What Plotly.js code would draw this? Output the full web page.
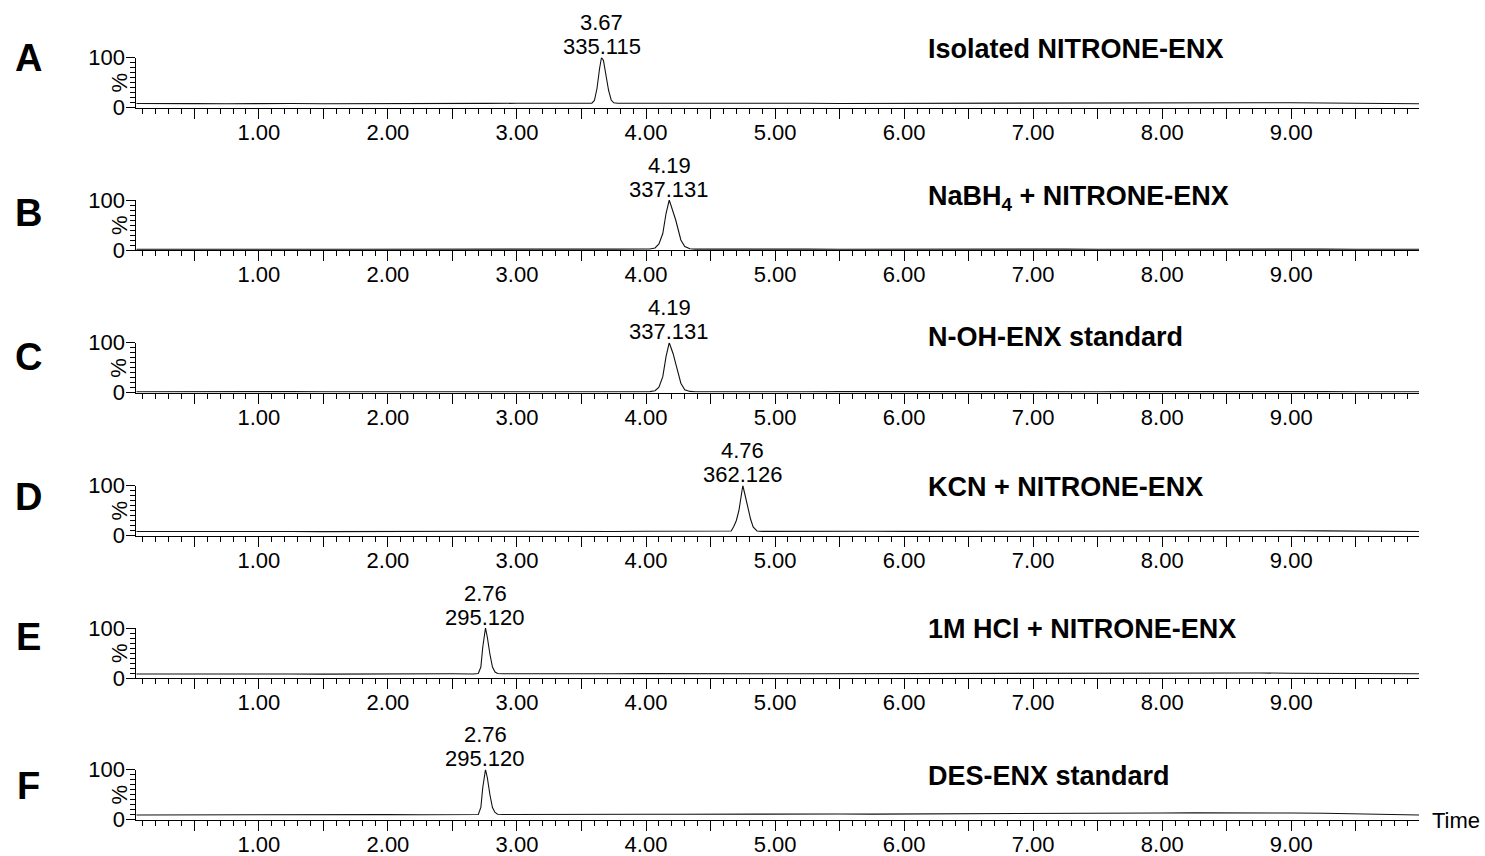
<!DOCTYPE html>
<html>
<head>
<meta charset="utf-8">
<script src="https://cdn.plot.ly/plotly-3.0.1.min.js"></script>
<style>html,body{margin:0;padding:0;background:#fff;}#chart{width:1485px;height:856px;}</style>
</head>
<body>
<div id="chart"></div>
<script>
// ---------------- DATA ----------------
const panelLetters = ['A', 'B', 'C', 'D', 'E', 'F'];
const panelTitles = ['Isolated NITRONE-ENX', 'NaBH<sub>4</sub> + NITRONE-ENX', 'N-OH-ENX standard',
                     'KCN + NITRONE-ENX', '1M HCl + NITRONE-ENX', 'DES-ENX standard'];
const rtLabels = ['3.67', '4.19', '4.19', '4.76', '2.76', '2.76'];
const mzLabels = ['335.115', '337.131', '337.131', '362.126', '295.120', '295.120'];
const apexTime = [3.655, 4.18, 4.18, 4.75, 2.756, 2.756];

const xLabelVals = [1, 2, 3, 4, 5, 6, 7, 8, 9];
const xLabelText = ['1.00', '2.00', '3.00', '4.00', '5.00', '6.00', '7.00', '8.00', '9.00'];
const xHalfVals = [0.5, 1.5, 2.5, 3.5, 4.5, 5.5, 6.5, 7.5, 8.5, 9.5];
const yTickVals = [0, 100];
const yTickText = ['0', '100'];

// baseline (time, % intensity)
const baseTime = [0.05, 0.25, 0.50, 0.75, 1.00, 1.25, 1.50, 1.75, 2.00, 2.25, 2.50, 2.75, 3.00, 3.25, 3.50, 3.75,
                  4.00, 4.25, 4.50, 4.75, 5.00, 5.25, 5.50, 5.75, 6.00, 6.25, 6.50, 6.75, 7.00, 7.25, 7.50, 7.75,
                  8.00, 8.25, 8.50, 8.75, 9.00, 9.25, 9.50, 9.75, 9.99];
const baseA = [8.0, 8.4, 7.8, 7.6, 8.2, 8.0, 7.6, 8.0, 8.4, 8.0, 7.8, 8.2, 8.4, 8.0, 8.2, 8.0, 8.6, 8.4, 8.0, 8.2,
               8.6, 8.4, 8.0, 8.2, 8.8, 8.6, 8.4, 8.6, 9.0, 8.8, 9.2, 9.4, 9.6, 9.8, 10.0, 9.6, 9.4, 8.8, 8.6, 8.2, 7.6];
const baseB = [1.6, 1.8, 1.6, 1.4, 1.6, 1.8, 1.6, 1.6, 1.8, 1.6, 1.8, 2.6, 1.8, 1.6, 1.8, 1.8, 2.0, 1.8, 1.6, 1.8,
               2.0, 1.8, 1.6, 1.8, 2.0, 1.8, 1.6, 1.8, 2.0, 1.8, 1.6, 1.8, 2.0, 2.2, 2.0, 1.8, 2.0, 1.8, 1.6, 1.8, 1.6];
const baseC = [2.0, 2.2, 1.8, 1.8, 2.0, 2.2, 1.8, 2.0, 2.2, 2.0, 1.8, 2.0, 2.2, 2.0, 1.8, 2.0, 2.2, 2.0, 1.8, 2.0,
               2.2, 2.0, 2.2, 2.0, 2.4, 2.2, 2.0, 2.2, 2.4, 2.2, 2.0, 2.2, 2.4, 2.6, 2.4, 2.2, 2.4, 2.2, 2.0, 2.2, 2.0];
const baseD = [8.0, 8.2, 7.8, 8.0, 8.4, 8.0, 7.8, 8.2, 8.4, 8.0, 8.2, 8.6, 8.4, 8.0, 8.2, 8.0, 8.4, 8.6, 8.2, 8.0,
               8.4, 8.8, 8.4, 8.6, 8.2, 8.4, 8.8, 8.6, 9.0, 8.8, 9.2, 9.6, 9.8, 9.6, 9.4, 9.8, 9.6, 9.2, 8.8, 8.4, 8.0];
const baseE = [8.0, 8.2, 7.6, 7.8, 8.2, 8.0, 7.8, 8.2, 8.4, 8.2, 8.4, 8.4, 8.6, 8.4, 8.2, 8.6, 8.8, 8.4, 8.6, 8.8,
               8.4, 8.6, 8.8, 8.6, 9.0, 8.8, 9.2, 9.0, 9.4, 9.2, 9.6, 9.8, 10.0, 9.8, 10.2, 10.0, 9.6, 9.4, 9.0, 8.8, 8.4];
const baseF = [9.0, 9.2, 8.6, 8.8, 9.2, 9.4, 9.0, 9.4, 9.8, 9.6, 9.8, 10.0, 10.2, 10.0, 10.4, 10.2, 10.6, 10.4, 10.8, 10.6,
               10.4, 10.8, 11.0, 10.8, 11.2, 11.0, 11.4, 11.6, 11.8, 12.0, 12.4, 12.6, 13.0, 13.2, 13.6, 13.4, 13.0, 12.4, 11.6, 10.4, 9.0];

// peak regions (time, % intensity)
const peakA_t = [3.55, 3.58, 3.60, 3.62, 3.64, 3.655, 3.67, 3.69, 3.71, 3.73, 3.75, 3.78];
const peakA_y = [8.2, 8.8, 14, 38, 78, 100, 94, 66, 34, 15, 9.4, 8.4];
const peakB_t = [4.00, 4.03, 4.07, 4.10, 4.13, 4.155, 4.18, 4.21, 4.23, 4.25, 4.27, 4.30, 4.34, 4.38];
const peakB_y = [1.8, 2.0, 4, 12, 33, 73, 100, 77, 60, 40, 20, 7, 2.4, 1.8];
const peakC_t = [4.00, 4.03, 4.07, 4.10, 4.13, 4.155, 4.18, 4.21, 4.23, 4.25, 4.27, 4.30, 4.34, 4.38];
const peakC_y = [2.0, 2.2, 4, 11, 32, 72, 100, 78, 58, 38, 19, 6, 2.6, 2.0];
const peakD_t = [4.62, 4.66, 4.68, 4.70, 4.72, 4.735, 4.75, 4.77, 4.79, 4.81, 4.83, 4.86, 4.90];
const peakD_y = [8.0, 9, 18, 30, 50, 78, 100, 78, 53, 33, 17, 9, 8.2];
const peakE_t = [2.66, 2.70, 2.72, 2.735, 2.756, 2.77, 2.79, 2.81, 2.83, 2.85, 2.89];
const peakE_y = [8.0, 9, 22, 62, 100, 82, 48, 22, 12, 9, 8.4];
const peakF_t = [2.66, 2.70, 2.72, 2.735, 2.756, 2.77, 2.79, 2.81, 2.83, 2.85, 2.89];
const peakF_y = [9.6, 10, 24, 64, 100, 84, 50, 24, 14, 10.4, 10.0];

const baselines = [baseA, baseB, baseC, baseD, baseE, baseF];
const peakTimes = [peakA_t, peakB_t, peakC_t, peakD_t, peakE_t, peakF_t];
const peakVals = [peakA_y, peakB_y, peakC_y, peakD_y, peakE_y, peakF_y];

// ---------------- BUILD ----------------
const W = 1485, H = 856;
const FONT = 'Liberation Sans, Arial, Helvetica, sans-serif';
const plotTop = [57.5, 200, 342.7, 485.5, 628, 769.5];   // px of 100% line
const plotH = 50;
const xL = 136.3, xR = 1419;
const letterY = [57.7, 213, 356.7, 497, 637, 786];
const titleY = [49, 198, 337, 487, 629, 776];
const XRANGE = [0.05, 9.99];

const traces = [];
const layout = {
  width: W, height: H,
  margin: {l: 0, r: 0, t: 0, b: 0, pad: 0},
  paper_bgcolor: '#fff', plot_bgcolor: '#fff',
  showlegend: false,
  font: {family: FONT, color: '#000', size: 22},
  annotations: []
};

for (let i = 0; i < 6; i++) {
  const n = i + 1;
  const pt = peakTimes[i], pv = peakVals[i];
  const t0 = pt[0], t1 = pt[pt.length - 1];
  const pts = [];
  baseTime.forEach((t, k) => { if (t < t0 || t > t1) pts.push([t, baselines[i][k]]); });
  pt.forEach((t, k) => pts.push([t, pv[k]]));
  pts.sort((a, b) => a[0] - b[0]);
  traces.push({
    type: 'scatter', mode: 'lines',
    x: pts.map(p => p[0]), y: pts.map(p => p[1]),
    xaxis: 'x' + n, yaxis: 'y' + n,
    line: {color: '#111', width: 1.1},
    hoverinfo: 'skip'
  });
  const xk = i === 0 ? 'xaxis' : 'xaxis' + n;
  const yk = i === 0 ? 'yaxis' : 'yaxis' + n;
  const top = plotTop[i];
  layout[xk] = {
    domain: [xL / W, xR / W], range: XRANGE, anchor: 'y' + n,
    showline: true, linecolor: '#000', linewidth: 1,
    showgrid: false, zeroline: false,
    ticks: 'outside', ticklen: 10, tickwidth: 1, tickcolor: '#000',
    tickmode: 'array', tickvals: xLabelVals, ticktext: xLabelText,
    ticklabelstandoff: -5,
    tickfont: {family: FONT, size: 22, color: '#000'},
    minor: {tick0: 0, dtick: 0.1, ticks: 'outside', ticklen: 5, tickwidth: 1, tickcolor: '#000', showgrid: false},
    fixedrange: true
  };
  // companion axis carrying the unlabelled half-minute ticks
  const hk = 'xaxis' + (n + 6);
  layout[hk] = {
    domain: [xL / W, xR / W], range: XRANGE, anchor: 'y' + n, overlaying: 'x' + n,
    showline: false, showgrid: false, zeroline: false, showticklabels: false,
    ticks: 'outside', ticklen: 10, tickwidth: 1, tickcolor: '#000',
    tickmode: 'array', tickvals: xHalfVals,
    fixedrange: true
  };
  layout[yk] = {
    domain: [1 - (top + plotH) / H, 1 - top / H], range: [0, 100], anchor: 'x' + n,
    showline: true, linecolor: '#000', linewidth: 1,
    showgrid: false, zeroline: false,
    ticks: 'outside', ticklen: 9, tickwidth: 1, tickcolor: '#000',
    tickmode: 'array', tickvals: yTickVals, ticktext: yTickText,
    ticklabelstandoff: -3,
    tickfont: {family: FONT, size: 22, color: '#000'},
    minor: {tick0: 0, dtick: 10, ticks: 'outside', ticklen: 5, tickwidth: 1, tickcolor: '#000', showgrid: false},
    fixedrange: true
  };
  // dummy trace so the companion axis is drawn
  traces.push({
    type: 'scatter', mode: 'lines', x: [XRANGE[0]], y: [null],
    xaxis: 'x' + (n + 6), yaxis: 'y' + n, hoverinfo: 'skip', showlegend: false
  });
  // panel letter
  layout.annotations.push({
    xref: 'paper', yref: 'paper', x: 28 / W, y: 1 - letterY[i] / H,
    xanchor: 'center', yanchor: 'middle', showarrow: false,
    text: '<b>' + panelLetters[i] + '</b>', font: {family: FONT, size: 38, color: '#000'}
  });
  // panel title
  layout.annotations.push({
    xref: 'paper', yref: 'paper', x: 926 / W, y: 1 - titleY[i] / H,
    xanchor: 'left', yanchor: 'middle', showarrow: false,
    text: '<b>' + panelTitles[i] + '</b>', font: {family: FONT, size: 27, color: '#000'}
  });
  // % label
  layout.annotations.push({
    xref: 'paper', yref: 'paper', x: 119 / W, y: 1 - (top + 25) / H,
    xanchor: 'center', yanchor: 'middle', showarrow: false, textangle: -90,
    text: '%', font: {family: FONT, size: 22, color: '#000'}
  });
  // retention time and m/z labels
  layout.annotations.push({
    xref: 'x' + n, yref: 'y' + n, x: apexTime[i], y: 100, yshift: 35,
    xanchor: 'center', yanchor: 'middle', showarrow: false,
    text: rtLabels[i], font: {family: FONT, size: 22, color: '#000'}
  });
  layout.annotations.push({
    xref: 'x' + n, yref: 'y' + n, x: apexTime[i], y: 100, yshift: 11,
    xanchor: 'center', yanchor: 'middle', showarrow: false,
    text: mzLabels[i], font: {family: FONT, size: 22, color: '#000'}
  });
}
layout.annotations.push({
  xref: 'paper', yref: 'paper', x: 1430 / W, y: 1 - 820.5 / H,
  xanchor: 'left', yanchor: 'middle', showarrow: false,
  text: 'Time', font: {family: FONT, size: 22, color: '#000'}
});

Plotly.newPlot('chart', traces, layout, {displayModeBar: false, staticPlot: true});
</script>
</body>
</html>
